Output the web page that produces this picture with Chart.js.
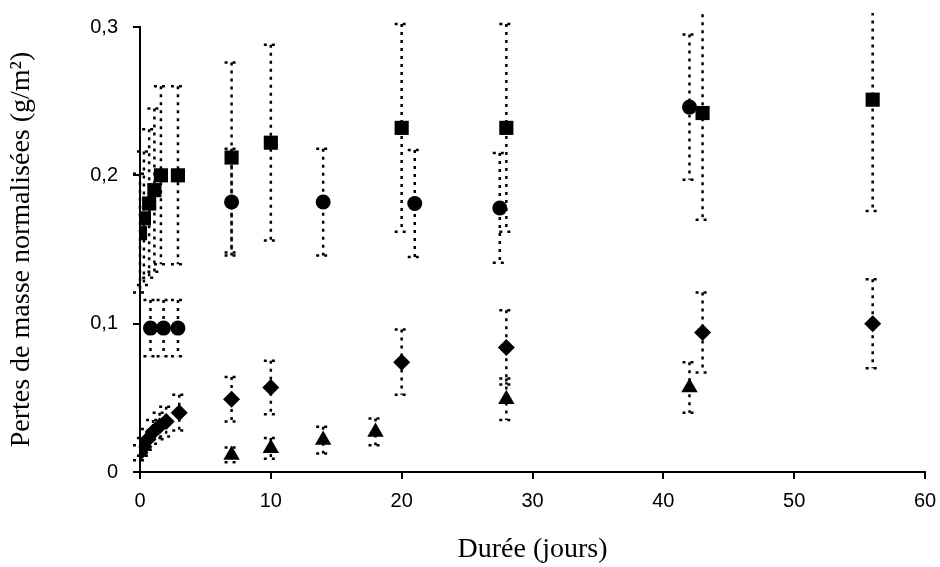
<!DOCTYPE html>
<html>
<head>
<meta charset="utf-8">
<script src="https://cdn.jsdelivr.net/npm/chart.js@4.4.0/dist/chart.umd.min.js"></script>
<style>
  html, body { margin: 0; padding: 0; background: #fff; }
  #wrap { width: 940px; height: 567px; }
</style>
</head>
<body>
<div id="wrap"><canvas id="massChart" width="940" height="567"></canvas></div>
<script>
// durée (jours) / pertes de masse normalisées (g/m2) / écart
const sqDays = [0, 0.3, 0.7, 1.1, 1.6, 2.9, 7, 10, 20, 28, 43, 56];
const sqVals = [0.161, 0.171, 0.181, 0.19, 0.2, 0.2, 0.212, 0.222, 0.232, 0.232, 0.242, 0.251];
const sqErr = [0.04, 0.045, 0.05, 0.055, 0.06, 0.06, 0.064, 0.066, 0.07, 0.07, 0.072, 0.075];

const cirDays = [0.8, 1.8, 2.9, 7, 14, 21, 27.5, 42];
const cirVals = [0.097, 0.097, 0.097, 0.182, 0.182, 0.181, 0.178, 0.246];
const cirErr = [0.019, 0.019, 0.019, 0.036, 0.036, 0.036, 0.037, 0.049];

const diaDays = [0, 0.3, 0.6, 1, 1.5, 2, 3, 7, 10, 20, 28, 43, 56];
const diaVals = [0.013, 0.017, 0.022, 0.027, 0.031, 0.034, 0.04, 0.049, 0.057, 0.074, 0.084, 0.094, 0.1];
const diaErr = [0.005, 0.006, 0.007, 0.008, 0.009, 0.01, 0.012, 0.015, 0.018, 0.022, 0.025, 0.027, 0.03];

const triDays = [7, 10, 14, 18, 28, 42];
const triVals = [0.0115, 0.016, 0.0215, 0.027, 0.049, 0.057];
const triErr = [0.005, 0.007, 0.009, 0.009, 0.014, 0.017];

const yTicks = [0, 0.1, 0.2, 0.3];

function toPoints(days, vals) {
  return days.map((d, i) => ({ x: d, y: vals[i] }));
}

function makeSet(label, days, vals, errs, style, radius) {
  return {
    label,
    data: toPoints(days, vals),
    errors: errs,
    pointStyle: style,
    pointRadius: radius,
    pointHoverRadius: radius,
    backgroundColor: '#000',
    borderColor: '#000',
    borderWidth: 0,
    showLine: false
  };
}

// dotted error bars, drawn under the markers
const errorBars = {
  id: 'errorBars',
  beforeDatasetsDraw(c) {
    const ctx = c.ctx;
    const y = c.scales.y;
    const area = c.chartArea;
    ctx.save();
    ctx.beginPath();
    ctx.rect(area.left - 10, area.top - 14, area.right - area.left + 20, area.bottom - area.top + 14);
    ctx.clip();
    ctx.strokeStyle = '#000';
    ctx.lineWidth = 2.5;
    ctx.setLineDash([3, 5]);
    c.data.datasets.forEach((ds, i) => {
      const meta = c.getDatasetMeta(i);
      meta.data.forEach((pt, j) => {
        const v = ds.data[j].y;
        const e = ds.errors[j];
        const top = y.getPixelForValue(v + e);
        const bot = y.getPixelForValue(v - e);
        ctx.beginPath();
        ctx.moveTo(pt.x, top);
        ctx.lineTo(pt.x, bot);
        ctx.moveTo(pt.x - 7, top);
        ctx.lineTo(pt.x + 5, top);
        ctx.moveTo(pt.x - 7, bot);
        ctx.lineTo(pt.x + 5, bot);
        ctx.stroke();
      });
    });
    ctx.restore();
  }
};

const chart = new Chart(document.getElementById('massChart'), {
  type: 'scatter',
  data: {
    datasets: [
      makeSet('carrés', sqDays, sqVals, sqErr, 'rect', 10),
      makeSet('cercles', cirDays, cirVals, cirErr, 'circle', 7.5),
      makeSet('losanges', diaDays, diaVals, diaErr, 'rectRot', 8.5),
      makeSet('triangles', triDays, triVals, triErr, 'triangle', 9.5)
    ]
  },
  options: {
    responsive: false,
    animation: false,
    layout: { padding: { top: 27, right: 15, bottom: 0, left: 0 } },
    plugins: {
      legend: { display: false },
      tooltip: { enabled: false }
    },
    scales: {
      x: {
        type: 'linear',
        min: 0,
        max: 60,
        afterFit: s => { s.height = 95; s.paddingLeft = 0; s.paddingRight = 0; },
        border: { color: '#000', width: 2 },
        grid: { drawOnChartArea: false, color: '#000', lineWidth: 2, tickLength: 7 },
        ticks: {
          stepSize: 10,
          color: '#000',
          padding: 10,
          font: { family: 'Liberation Sans', size: 20 }
        },
        title: {
          display: true,
          text: 'Durée (jours)',
          color: '#000',
          padding: { top: 0, bottom: 1 },
          font: { family: 'Liberation Serif', size: 28 }
        }
      },
      y: {
        min: 0,
        max: 0.3,
        afterFit: s => { s.width = 140; s.paddingTop = 0; s.paddingBottom = 0; },
        afterBuildTicks: s => { s.ticks = yTicks.map(v => ({ value: v })); },
        border: { color: '#000', width: 2 },
        grid: { drawOnChartArea: false, color: '#000', lineWidth: 2, tickLength: 7 },
        ticks: {
          color: '#000',
          padding: 15,
          font: { family: 'Liberation Sans', size: 20 },
          callback: v => v === 0 ? '0' : v.toFixed(1).replace('.', ',')
        },
        title: {
          display: true,
          text: 'Pertes de masse normalisées (g/m²)',
          color: '#000',
          padding: { top: 5, bottom: 0 },
          font: { family: 'Liberation Serif', size: 28 }
        }
      }
    }
  },
  plugins: [errorBars]
});
</script>
</body>
</html>
